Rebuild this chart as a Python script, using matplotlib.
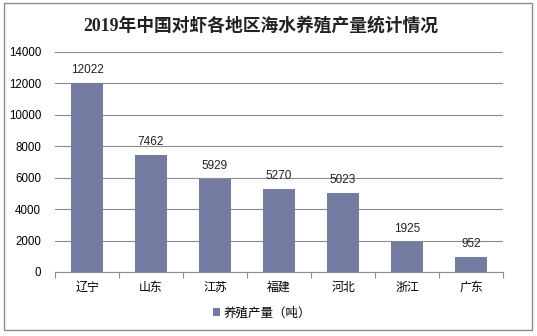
import matplotlib
matplotlib.use("Agg")
import matplotlib.pyplot as plt
from matplotlib.patches import Rectangle

plt.rcParams['font.family'] = ['Liberation Sans', 'Noto Sans CJK SC', 'DejaVu Sans']

regions = ["辽宁", "山东", "江苏", "福建", "河北", "浙江", "广东"]
output_tons = [12022, 7462, 5929, 5270, 5023, 1925, 952]
y_ticks = [0, 2000, 4000, 6000, 8000, 10000, 12000, 14000]
title = "2019年中国对虾各地区海水养殖产量统计情况"
series_name = "养殖产量（吨）"

bar_color = "#737ba0"
grid_color = "#8c8c8c"

fig = plt.figure(figsize=(5.37, 3.36), dpi=100)
fig.patch.set_facecolor("white")

# outer chart frame
fig.patches.append(Rectangle((4 / 537, 1 - 330 / 336), 528 / 537, 327 / 336,
                             transform=fig.transFigure, fill=False,
                             edgecolor="#8c8c8c", linewidth=1.0))

ax = fig.add_axes([55 / 537, 1 - 272 / 336, 448 / 537, 220 / 336])
x = list(range(len(regions)))
bars = ax.bar(x, output_tons, width=0.5, color=bar_color, zorder=3, label=series_name)

ax.set_xlim(-0.5, len(regions) - 0.5)
ax.set_ylim(0, 14000)
ax.set_yticks(y_ticks)
ax.set_yticklabels([str(v) for v in y_ticks], fontsize=8.3)
ax.yaxis.grid(True, color=grid_color, linewidth=0.8, zorder=0)
ax.tick_params(axis='y', length=0, pad=10)

ax.set_xticks(x)
ax.set_xticklabels(regions, fontsize=8.6)
ax.tick_params(axis='x', length=0, pad=7)
# category separator ticks on the baseline
ax.set_xticks([i - 0.5 for i in range(len(regions) + 1)], minor=True)
ax.tick_params(axis='x', which='minor', length=4, color=grid_color, width=0.8)

for s in ["top", "right", "left"]:
    ax.spines[s].set_visible(False)
ax.spines["bottom"].set_color(grid_color)
ax.spines["bottom"].set_linewidth(0.8)

for xi, v in zip(x, output_tons):
    ax.text(xi, v + 450, str(v), ha="center", va="bottom", fontsize=8.5, color="#222222")

fig.text(0.485, 1 - 26 / 336, title, ha="center", va="center", fontsize=12.8,
         fontweight="bold", family=['Liberation Serif', 'Noto Sans CJK SC'], color="#222222")

leg = fig.legend(handles=[bars], labels=[series_name], loc="center",
                 bbox_to_anchor=(262 / 537, 1 - 313 / 336), frameon=False,
                 fontsize=9, handlelength=0.6, handleheight=0.6, handletextpad=0.3)

fig.savefig("out.png", dpi=100, facecolor="white")
